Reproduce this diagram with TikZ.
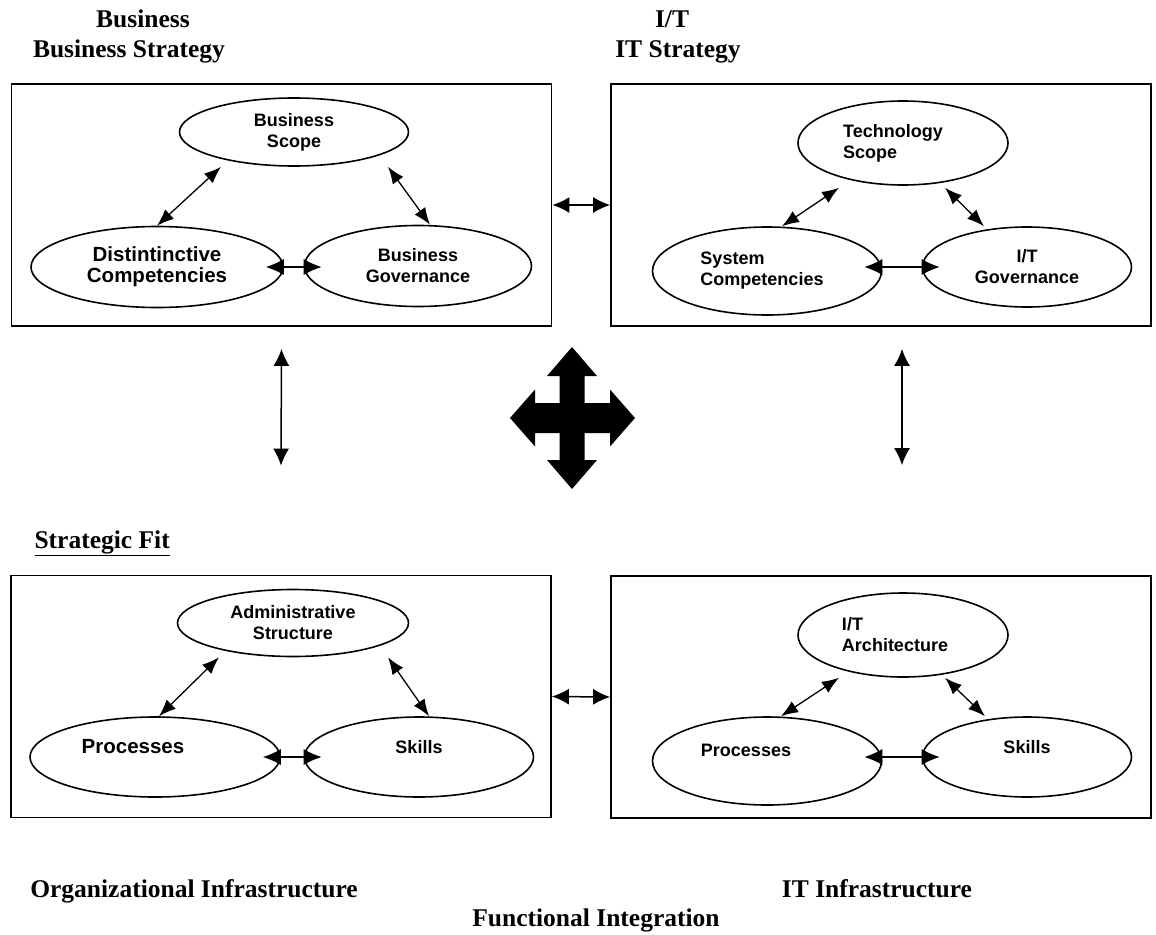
\documentclass[tikz,border=0pt]{standalone}
\usepackage{fontspec}
\setmainfont{Liberation Serif}
\setsansfont{Liberation Sans}
\usetikzlibrary{shapes.geometric,arrows.meta}

\tikzset{
  box/.style={draw, line width=1.8pt, minimum width=540pt, minimum height=242pt, inner sep=0pt},
  oval/.style={ellipse, draw, line width=1.6pt, inner sep=0pt, align=center,
    font=\sffamily\bfseries\fontsize{18}{21}\selectfont},
  big/.style={font=\sffamily\bfseries\fontsize{20.5}{21}\selectfont},
  head/.style={anchor=base, font=\bfseries\fontsize{25.5}{30}\selectfont},
  link/.style={line width=1.3pt, {Latex[length=17pt,width=13pt]}-{Latex[length=17pt,width=13pt]}},
  tie/.style={line width=1.3pt, {Latex[length=18pt,width=16pt]}-{Latex[length=18pt,width=16pt]},
    shorten <=-18pt, shorten >=-18pt},
  wide/.style={line width=1.5pt, {Latex[length=17pt,width=16pt]}-{Latex[length=17pt,width=16pt]}},
}

\begin{document}
\begin{tikzpicture}[x=1pt,y=-1pt]
  \useasboundingbox (0,0) rectangle (1156,934);

  %%headings
  \node[head] (bizhead) at (143,28) {Business};
  \node[head] (bizstrat) at (129,58) {Business Strategy};
  \node[head] (ithead) at (672,28) {I/T};
  \node[head] (itstrat) at (678,58) {IT Strategy};
  \node[head, anchor=base west] (fit) at (31,548) {\underline{Strategic Fit}};
  \node[head] (orginf) at (194,897) {Organizational Infrastructure};
  \node[head] (itinf) at (877,897) {IT Infrastructure};
  \node[head] (funcint) at (596,926) {Functional Integration};

  %%business strategy
  \node[box] (bsbox) at (281.5,205) {};
  \node[oval, minimum width=229pt, minimum height=68pt] (bscope) at (294,132) {Business\\Scope};
  \node[oval, big, minimum width=252pt, minimum height=81pt] (bcomp) at (157,267) {Distintinctive\\Competencies};
  \node[oval, minimum width=227pt, minimum height=81pt] (bgov) at (418,266) {Business\\Governance};
    \draw[link] (bcomp.north) -- ([xshift=-73pt]bscope.south);
    \draw[link] ([xshift=94pt]bscope.south) -- ([xshift=12pt]bgov.north);
    \draw[tie] (bcomp.east) -- (bcomp.east -| bgov.west);

  %%it strategy
  \node[box] (itbox) at (881,205) {};
  \node[oval, align=left, minimum width=210pt, minimum height=84pt] (tscope) at (903,143) {Technology\hspace*{20pt}\\Scope};
  \node[oval, align=left, minimum width=229pt, minimum height=88pt] (scomp) at (767,271) {System\\Competencies\hspace*{10pt}};
  \node[oval, minimum width=209pt, minimum height=80pt] (itgov) at (1027,267) {I/T\\Governance};
    \draw[link] ([xshift=15pt]scomp.north) -- ([xshift=-64pt,yshift=-2pt]tscope.south);
    \draw[link] ([xshift=42pt,yshift=-2pt]tscope.south) -- ([xshift=-43pt]itgov.north);
    \draw[tie] (itgov.west -| scomp.east) -- (itgov.west);

  %%organizational infrastructure
  \node[box] (oibox) at (281,696.5) {};
  \node[oval, minimum width=231pt, minimum height=67pt] (astruct) at (293,623) {Administrative\\Structure};
  \node[oval, big, align=left, minimum width=250pt, minimum height=80pt] (oproc) at (155,757) {Processes\hspace*{44pt}\\~};
  \node[oval, minimum width=229pt, minimum height=80pt] (oskill) at (419,757) {Skills\\~};
    \draw[link] ([xshift=4pt]oproc.north) -- ([xshift=-74pt]astruct.south);
    \draw[link] ([xshift=95pt]astruct.south) -- ([xshift=10pt]oskill.north);
    \draw[tie] (oproc.east) -- (oskill.west);

  %%it infrastructure
  \node[box] (iibox) at (881,697) {};
  \node[oval, align=left, minimum width=210pt, minimum height=84pt] (itarch) at (903,635) {I/T\\Architecture\hspace*{16pt}};
  \node[oval, align=left, minimum width=229pt, minimum height=88pt] (iproc) at (767,761) {Processes\hspace*{42pt}\\~};
  \node[oval, minimum width=209pt, minimum height=80pt] (iskill) at (1027,757) {Skills\\~};
    \draw[link] ([xshift=14pt]iproc.north) -- ([xshift=-64pt]itarch.south);
    \draw[link] ([xshift=42pt]itarch.south) -- ([xshift=-42pt]iskill.north);
    \draw[tie] (iskill.west -| iproc.east) -- (iskill.west);

  %%between the boxes
  \draw[wide] (bsbox.east) -- (itbox.west);
  \draw[wide] (oibox.east) -- (iibox.west);
  \draw[wide] ([yshift=-22pt]bsbox.south) -- ([yshift=109pt]oibox.north);
  \draw[wide] ([xshift=21pt,yshift=-22pt]itbox.south) -- ([xshift=21pt,yshift=110pt]iibox.north);

  %%fit cross
  \coordinate (hub) at (572,418);
  \fill[shift={(hub)}] (0,-71) -- (25,-42) -- (12.5,-42) -- (12.5,-15) -- (38,-15) -- (38,-28.5)
    -- (63,0) -- (38,28.5) -- (38,15) -- (12.5,15) -- (12.5,42) -- (25,42) -- (0,71)
    -- (-25,42) -- (-12.5,42) -- (-12.5,15) -- (-37,15) -- (-37,28.5) -- (-62,0)
    -- (-37,-28.5) -- (-37,-15) -- (-12.5,-15) -- (-12.5,-42) -- (-25,-42) -- cycle;
\end{tikzpicture}
\end{document}
